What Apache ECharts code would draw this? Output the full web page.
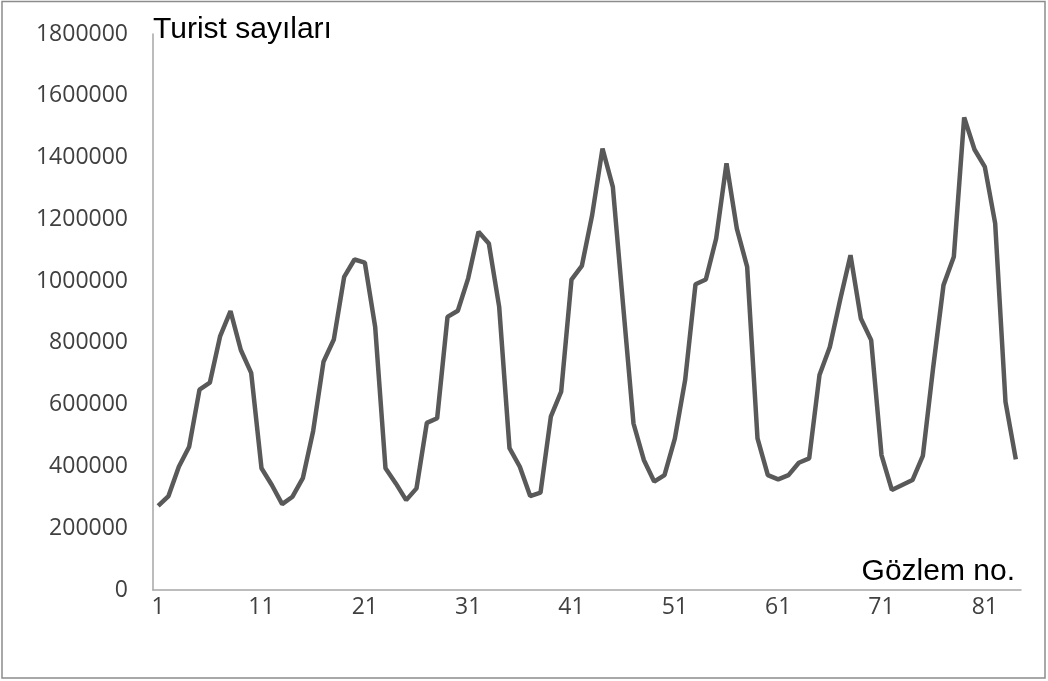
<!DOCTYPE html>
<html>
<head>
<meta charset="utf-8">
<script src="https://cdn.jsdelivr.net/npm/echarts@6/dist/echarts.min.js"></script>
<style>
  html, body { margin: 0; padding: 0; background: #fff; }
  #chart { width: 1048px; height: 681px; }
</style>
</head>
<body>
<div id="chart"></div>
<script>
// observation numbers 1..84 (monthly)
const observations = [
  1, 2, 3, 4, 5, 6, 7, 8, 9, 10, 11, 12,
  13, 14, 15, 16, 17, 18, 19, 20, 21, 22, 23, 24,
  25, 26, 27, 28, 29, 30, 31, 32, 33, 34, 35, 36,
  37, 38, 39, 40, 41, 42, 43, 44, 45, 46, 47, 48,
  49, 50, 51, 52, 53, 54, 55, 56, 57, 58, 59, 60,
  61, 62, 63, 64, 65, 66, 67, 68, 69, 70, 71, 72,
  73, 74, 75, 76, 77, 78, 79, 80, 81, 82, 83, 84
];

const touristCounts = [
  272000, 304000, 399000, 464000, 649000, 671000, 822000, 903000, 777000, 703000, 394000, 340000,
  278000, 302000, 362000, 515000, 739000, 811000, 1014000, 1070000, 1060000, 852000, 394000, 345000,
  291000, 329000, 541000, 556000, 884000, 904000, 1009000, 1160000, 1122000, 917000, 459000, 399000,
  304000, 315000, 561000, 642000, 1005000, 1049000, 1214000, 1429000, 1305000, 920000, 539000, 421000,
  351000, 372000, 490000, 680000, 990000, 1005000, 1138000, 1381000, 1170000, 1046000, 491000, 372000,
  358000, 372000, 412000, 426000, 696000, 787000, 940000, 1084000, 879000, 809000, 437000, 324000,
  340000, 356000, 434000, 720000, 987000, 1079000, 1530000, 1426000, 1370000, 1187000, 609000, 423000
];

const xTickLabels = [1, 11, 21, 31, 41, 51, 61, 71, 81];
const yTicks = [0, 200000, 400000, 600000, 800000, 1000000, 1200000, 1400000, 1600000, 1800000];

const yAxisName = 'Turist sayıları';
const xAxisName = 'Gözlem no.';

const chart = echarts.init(document.getElementById('chart'), null, { renderer: 'canvas' });

const labelStyle = {
  fontFamily: 'Open Sans',
  fontSize: 23,
  color: '#404040'
};

const option = {
  animation: false,
  backgroundColor: '#fff',
  grid: {
    left: 153,
    right: 27,
    top: 34,
    bottom: 91
  },
  xAxis: {
    type: 'value',
    min: 0.5,
    max: 84.5,
    name: xAxisName,
    nameLocation: 'end',
    nameGap: -6,
    nameTextStyle: {
      fontFamily: 'Liberation Sans',
      fontSize: 30,
      color: '#000',
      align: 'right',
      verticalAlign: 'bottom',
      padding: [0, 0, 3, 0]
    },
    axisLine: { show: true, lineStyle: { color: '#a6a6a6', width: 1.5 } },
    axisTick: { show: false },
    splitLine: { show: false },
    axisLabel: {
      ...labelStyle,
      margin: 6,
      customValues: xTickLabels,
      formatter: (v) => String(v)
    }
  },
  yAxis: {
    type: 'value',
    min: yTicks[0],
    max: yTicks[yTicks.length - 1],
    interval: 200000,
    name: yAxisName,
    nameLocation: 'end',
    nameGap: 4,
    nameTextStyle: {
      fontFamily: 'Liberation Sans',
      fontSize: 30,
      color: '#000',
      align: 'left',
      verticalAlign: 'middle'
    },
    axisLine: { show: true, lineStyle: { color: '#a6a6a6', width: 1.5 } },
    axisTick: { show: false },
    splitLine: { show: false },
    axisLabel: {
      ...labelStyle,
      margin: 25,
      formatter: (v) => String(v)
    }
  },
  graphic: [
    {
      type: 'rect',
      shape: { x: 2, y: 1.5, width: 1043, height: 676.5 },
      style: { fill: 'none', stroke: '#8c8c8c', lineWidth: 1.5 },
      silent: true
    }
  ],
  series: [
    {
      type: 'line',
      data: observations.map((n, i) => [n, touristCounts[i]]),
      showSymbol: false,
      lineStyle: { color: '#595959', width: 4.5 }
    }
  ]
};

chart.setOption(option);
</script>
</body>
</html>
